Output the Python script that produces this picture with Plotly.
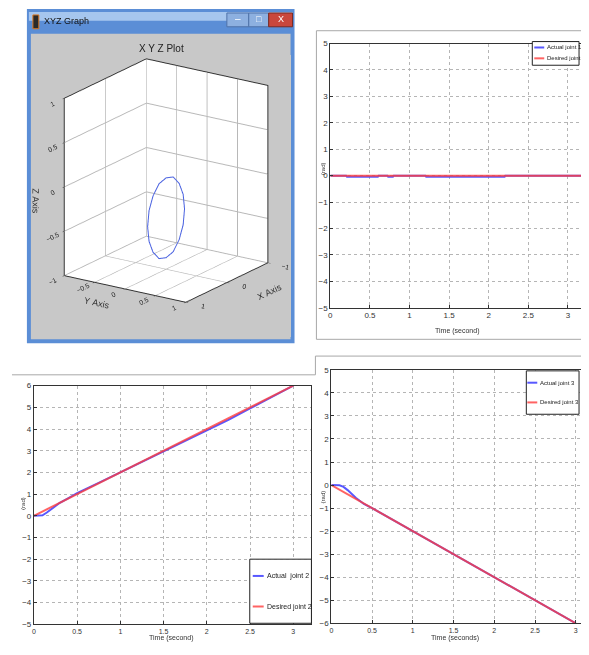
import plotly.graph_objects as go

# the page body keeps its default 8px margin, so the figure is shifted by it
OFF = 8
W, H = 589 - OFF, 655 - 2 * OFF

# joint 1 (top right)
t1 = [0.0, 0.2, 0.21, 0.6, 0.61, 0.72, 0.73, 0.79, 0.8, 1.2, 1.21, 2.2, 2.21, 3.24]
actual1 = [0.0, 0.0, -0.04, -0.04, 0.0, 0.0, -0.04, -0.04, 0.0, 0.0, -0.04, -0.04, 0.0, 0.0]
t1_des = [0.0, 3.24]
desired1 = [0.0, 0.0]

# joint 2 (bottom left)
t2 = [0.0, 0.05, 0.1, 0.15, 0.2, 0.3, 0.4, 0.5, 0.75, 1.0, 1.25, 1.5, 1.75, 2.0, 2.25, 2.5, 2.75, 3.0]
actual2 = [0.0, 0.0, 0.02, 0.15, 0.3, 0.6, 0.82, 1.04, 1.52, 2.0, 2.48, 2.98, 3.44, 3.92, 4.42, 4.95, 5.47, 6.0]
desired2 = [0.0, 0.1, 0.2, 0.3, 0.4, 0.6, 0.8, 1.0, 1.5, 2.0, 2.5, 3.0, 3.5, 4.0, 4.5, 5.0, 5.5, 6.0]

# joint 3 (bottom right)
t3 = [0.0, 0.05, 0.1, 0.15, 0.2, 0.3, 0.4, 0.5, 0.75, 1.0, 1.25, 1.5, 1.75, 2.0, 2.25, 2.5, 2.75, 3.0]
actual3 = [0.0, 0.0, -0.01, -0.08, -0.22, -0.55, -0.82, -1.0, -1.5, -2.0, -2.5, -3.0, -3.5, -4.0, -4.5, -5.0, -5.52, -6.0]
desired3 = [0.0, -0.1, -0.2, -0.3, -0.4, -0.6, -0.8, -1.0, -1.5, -2.0, -2.5, -3.0, -3.5, -4.0, -4.5, -5.0, -5.5, -6.0]

# end effector path in the 3D window
path_x = [0.45, 0.416, 0.318, 0.172, 0.0, -0.172, -0.318, -0.416, -0.45, -0.416, -0.318, -0.172, 0.0, 0.172, 0.318, 0.416, 0.45]
path_y = [0.0, 0.0, 0.0, 0.0, 0.0, 0.0, 0.0, 0.0, 0.0, 0.0, 0.0, 0.0, 0.0, 0.0, 0.0, 0.0, 0.0]
path_z = [-0.42, -0.248, -0.102, 0.002, 0.03, 0.002, -0.102, -0.248, -0.42, -0.592, -0.738, -0.842, -0.87, -0.842, -0.738, -0.592, -0.42]

legend1_names = ["Actual joint 1", "Desired joint 1"]
legend2_names = ["Actual  joint 2", "Desired joint 2"]
legend3_names = ["Actual joint 3", "Desired joint 3"]

BLUE = "rgba(70,70,255,0.9)"
RED = "rgba(255,60,60,0.8)"
FONT = "Liberation Sans Narrow, Liberation Sans, Arial"


def px(x):
    return (x - OFF) / W


def py(y):
    return 1 - (y - OFF) / H


def axis2d(x0, x1, rng, dtick, anchor, size=8):
    return dict(
        domain=[px(x0), px(x1)], range=rng, dtick=dtick, anchor=anchor,
        showgrid=True, gridcolor="#b5b5b5", griddash="dot", gridwidth=1,
        showline=True, linecolor="#333", linewidth=1, mirror=True,
        ticks="inside", ticklen=3, tickcolor="#333", zeroline=False,
        tickfont=dict(size=size, color="#333"), fixedrange=True,
    )


def yaxis2d(y_top, y_bot, rng, anchor):
    return dict(
        domain=[py(y_bot), py(y_top)], range=rng, dtick=1, anchor=anchor,
        showgrid=True, gridcolor="#b5b5b5", griddash="dot", gridwidth=1,
        showline=True, linecolor="#333", linewidth=1, mirror=True,
        ticks="inside", ticklen=3, tickcolor="#333", zeroline=False,
        tickfont=dict(size=8, color="#333"), fixedrange=True,
    )


def rect(x0, y0, x1, y1, fill=None, line="#a8a8a8", lw=1, layer="above"):
    return dict(type="rect", xref="paper", yref="paper", x0=px(x0), x1=px(x1), y0=py(y1), y1=py(y0),
                fillcolor=fill, line=dict(color=line, width=lw), layer=layer)


def seg(x0, y0, x1, y1, color, lw=1):
    return dict(type="line", xref="paper", yref="paper", x0=px(x0), x1=px(x1), y0=py(y0), y1=py(y1),
                line=dict(color=color, width=lw))


def text(s, x, y, size=7, color="#333", anchor="center", angle=0):
    return dict(text=s, xref="paper", yref="paper", x=px(x), y=py(y), xanchor=anchor, yanchor="middle",
                showarrow=False, textangle=angle, font=dict(size=size, family=FONT, color=color))


def legend_box(names, box, rows, line_x, size):
    x0, y0, x1, y1 = box
    shp = [rect(x0, y0, x1, y1, fill="white", line="#222")]
    ann = []
    for name, yy, col in zip(names, rows, [BLUE, RED]):
        shp.append(seg(line_x[0], yy, line_x[1], yy, col, 2))
        ann.append(text(name, line_x[1] + 1, yy, size=size, color="#222", anchor="left"))
    return shp, ann


fig = go.Figure()

# 3D scene
fig.add_trace(go.Scatter3d(x=path_x, y=path_y, z=path_z, mode="lines",
                           line=dict(color="#4a62e0", width=2), showlegend=False, scene="scene"))

# joint 1
fig.add_trace(go.Scatter(x=t1, y=actual1, mode="lines", name=legend1_names[0],
                         line=dict(color=BLUE, width=2), xaxis="x", yaxis="y"))
fig.add_trace(go.Scatter(x=t1_des, y=desired1, mode="lines", name=legend1_names[1],
                         line=dict(color=RED, width=2), xaxis="x", yaxis="y"))
# joint 2
fig.add_trace(go.Scatter(x=t2, y=actual2, mode="lines", name=legend2_names[0],
                         line=dict(color=BLUE, width=2), xaxis="x2", yaxis="y2"))
fig.add_trace(go.Scatter(x=t2, y=desired2, mode="lines", name=legend2_names[1],
                         line=dict(color=RED, width=2), xaxis="x2", yaxis="y2"))
# joint 3
fig.add_trace(go.Scatter(x=t3, y=actual3, mode="lines", name=legend3_names[0],
                         line=dict(color=BLUE, width=2), xaxis="x3", yaxis="y3"))
fig.add_trace(go.Scatter(x=t3, y=desired3, mode="lines", name=legend3_names[1],
                         line=dict(color=RED, width=2), xaxis="x3", yaxis="y3"))

ax3d = dict(
    range=[-1, 1], showbackground=True, backgroundcolor="white",
    gridcolor="#b8b8b8", showline=True, linecolor="#333", linewidth=2, mirror=True,
    ticks="outside", ticklen=3, tickcolor="#333", zeroline=False,
    tickfont=dict(size=9, color="#222", family=FONT), showspikes=False,
)

shapes = [
    # window frame and title bar
    rect(25, 5, 294, 344, fill="#5b8ed6", lw=0, layer="below"),
    rect(27, 8, 292, 17, fill="#a6c6ee", lw=0, layer="below"),
    rect(29, 30, 290, 340, fill="#c8c8c8", lw=0, layer="below"),
    rect(31, 11, 37, 25, fill="#2a2a2a", line="#e07a20"),
    rect(226, 9, 248, 23, fill="#8db0e0", line="#4f72a8"),
    rect(248, 9, 268, 23, fill="#8db0e0", line="#4f72a8"),
    rect(268, 9, 292, 23, fill="#c9473c", line="#7a2a22"),
    # panel borders
    rect(316, 27, 592, 340, line="#a8a8a8"),
    dict(type="path", xref="paper", yref="paper",
         path=f"M {px(10)},{py(376)} L {px(315)},{py(376)} L {px(315)},{py(357)} L {px(592)},{py(357)}",
         line=dict(color="#a8a8a8", width=1)),
]

annotations = [
    text("XYZ Graph", 40, 17, size=9, color="#111", anchor="left"),
    text("–", 237, 15, size=10, color="white"),
    text("□", 258, 15, size=9, color="white"),
    text("X", 280, 15, size=9, color="white"),
    text("X Y Z Plot", 160, 45, size=10, color="#222"),
    text("Time (second)", 457, 332),
    text("Time (second)", 170, 643),
    text("Time (seconds)", 455, 643),
    text("(rad)", 322, 167, size=6, angle=-90),
    text("(rad)", 21, 506, size=6, angle=-90),
    text("(rad)", 323, 500, size=6, angle=-90),
]

# legends (the strip right of x=581 is not visible in the page)
for names, box, rows, lx, size in [
    (legend1_names, (533, 38, 580, 62), (44, 55), (535, 545), 6),
    (legend2_names, (249, 563, 311, 628), (580, 611), (252, 263), 7),
    (legend3_names, (527, 372, 580, 416), (384, 404), (528, 538), 6),
]:
    s, a = legend_box(names, box, rows, lx, size)
    shapes += s
    annotations += a

fig.update_layout(
    width=W, height=H, margin=dict(l=0, r=0, t=0, b=0),
    paper_bgcolor="white", plot_bgcolor="white", showlegend=False,
    font=dict(family=FONT, color="#333"),
    xaxis=axis2d(330, 588, [0, 3.24], 0.5, "y"),
    yaxis=yaxis2d(40, 308, [-5, 5], "x"),
    xaxis2=axis2d(32, 311, [0, 3.21], 0.5, "y2", size=7),
    yaxis2=yaxis2d(387, 629, [-5, 6], "x2"),
    xaxis3=axis2d(331, 589, [0, 3.15], 0.5, "y3", size=7),
    yaxis3=yaxis2d(371, 628, [-6, 5], "x3"),
    scene=dict(
        domain=dict(x=[px(29), px(290)], y=[py(338), py(52)]),
        bgcolor="#c8c8c8",
        camera=dict(eye=dict(x=1.543, y=0.998, z=0.515), center=dict(x=0.02, y=-0.03, z=-0.116),
                    up=dict(x=0, y=0, z=1), projection=dict(type="orthographic")),
        aspectmode="manual", aspectratio=dict(x=1.04, y=1.04, z=1.33),
        xaxis=dict(ax3d, title=dict(text="X Axis", font=dict(size=9)), tickvals=[-1, 0, 1]),
        yaxis=dict(ax3d, title=dict(text="Y Axis", font=dict(size=9)), dtick=0.5),
        zaxis=dict(ax3d, title=dict(text="Z Axis", font=dict(size=9)), dtick=0.5),
    ),
    shapes=shapes,
    annotations=annotations,
)

fig.write_html("out.html")
